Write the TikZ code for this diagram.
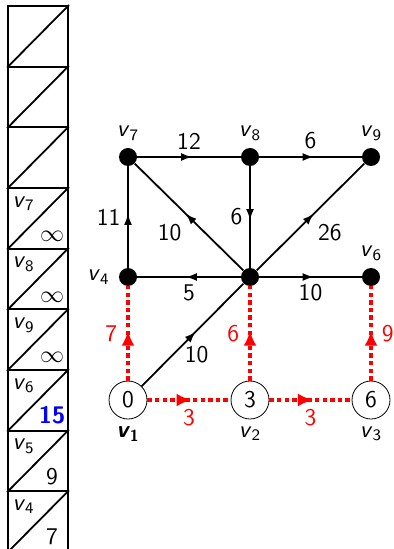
\documentclass[tikz,border=0pt]{standalone}
\usepackage{xcolor}
\usetikzlibrary{arrows.meta,positioning,calc,decorations.markings}
\renewcommand{\familydefault}{\sfdefault}
\newcommand{\vn}[1]{\textit{v}\textsubscript{#1}}
\tikzset{
  vtx/.style={circle,fill=black,inner sep=0pt,minimum size=9pt,label distance=2pt},
  src/.style={circle,draw,thin,inner sep=0pt,minimum size=19pt,font=\large,label distance=1.5pt},
  cell/.style={draw,line width=0.9pt,minimum width=30pt,minimum height=30.33pt,inner sep=0pt},
  marr/.style={line width=0.9pt,postaction={decorate},
    decoration={markings,mark=at position 0.53 with {\arrow{Latex[length=5.5pt,width=4pt]}}}},
  parr/.style={red,line width=2.2pt,dash pattern=on 2.2pt off 1.6pt,postaction={decorate},
    decoration={markings,mark=at position 0.53 with {\arrow{Latex[length=7.5pt,width=6.5pt]}}}},
  lbl/.style={font=\large},
  plbl/.style={font=\large,text=red}
}
\begin{document}
\begin{tikzpicture}[node distance=60pt and 61pt,on grid,every label/.style={font=\large}]
  \useasboundingbox (0,0) rectangle (197pt,-274.5pt);

  % list of labels
  \foreach \nm/\val [count=\i from 0] in {{}/{},{}/{},{}/{},\vn{7}/$\infty$,\vn{8}/$\infty$,\vn{9}/$\infty$,
      \vn{6}/{\textcolor{blue}{\bfseries 15}},\vn{5}/9,\vn{4}/7}{
    \node[cell] (c\i) at (19pt,{-3pt-15.17pt-\i*30.33pt}) {};
    \draw[line width=0.9pt] (c\i.south west) -- (c\i.north east);
    \node[anchor=base west,inner sep=0pt,font=\large] at ($(c\i.north west)+(2.5pt,-10pt)$) {\nm};
    \node[anchor=base,inner sep=0pt,font=\large] at ($(c\i.south west)+(22.5pt,4pt)$) {\val};
  }

  % graph
  \node[vtx,label={above:\vn{7}}] (v7) at (64pt,-78.5pt) {};
  \node[vtx,label={above:\vn{8}},right=of v7] (v8) {};
  \node[vtx,label={above:\vn{9}},right=60.5pt of v8] (v9) {};
  \node[vtx,label={[label distance=1pt]left:\vn{4}},below=of v7] (v4) {};
  \node[vtx,right=of v4] (v5) {};
  \node[vtx,label={above:\vn{6}},right=60.5pt of v5] (v6) {};
  \node[src,label={below:\textbf{\vn{1}}},below=61.5pt of v4] (v1) {0};
  \node[src,label={below:\vn{2}},right=of v1] (v2) {3};
  \node[src,label={below:\vn{3}},right=60.5pt of v2] (v3) {6};

  \draw[marr] (v7) -- node[above,lbl] {12} (v8);
  \draw[marr] (v8) -- node[above,lbl] {6} (v9);
  \draw[marr] (v4) -- node[left,lbl] {11} (v7);
  \draw[marr] (v5) -- node[below left,lbl] {10} (v7);
  \draw[marr] (v8) -- node[left,lbl] {6} (v5);
  \draw[marr] (v5) -- node[below right,lbl] {26} (v9);
  \draw[marr] (v5) -- node[below,lbl] {5} (v4);
  \draw[marr] (v5) -- node[below,lbl] {10} (v6);
  \draw[marr] (v1) -- node[below=2pt,xshift=2pt,lbl] {10} (v5);

  \draw[parr] (v1) -- node[left=1pt,plbl] {7} (v4);
  \draw[parr] (v2) -- node[left=1pt,plbl] {6} (v5);
  \draw[parr] (v3) -- node[right=1pt,plbl] {9} (v6);
  \draw[parr] (v1) -- node[below,plbl] {3} (v2);
  \draw[parr] (v2) -- node[below,plbl] {3} (v3);
\end{tikzpicture}
\end{document}
